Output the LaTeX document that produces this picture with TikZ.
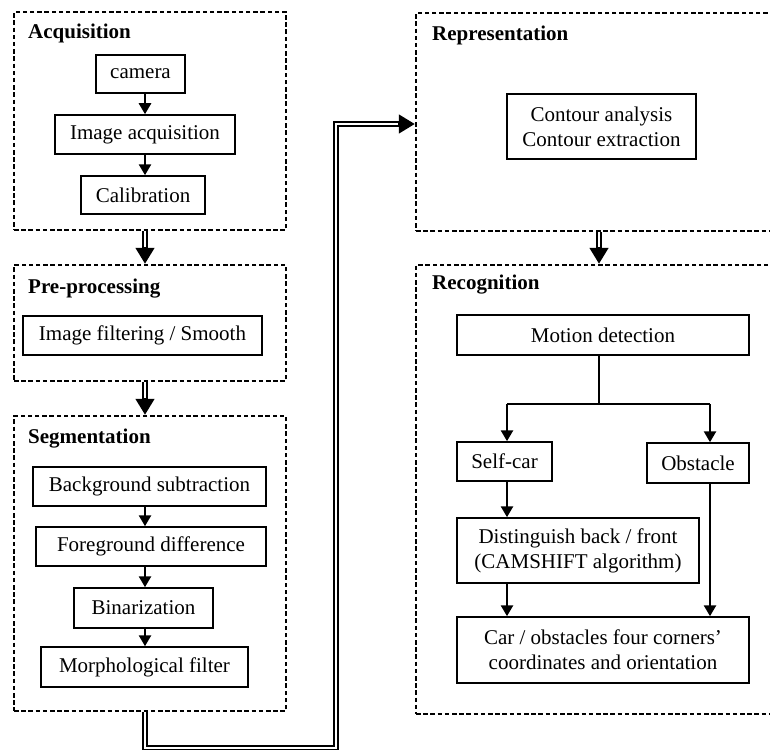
\documentclass[tikz,border=0pt]{standalone}
\usepackage{fontspec}
\setmainfont{Liberation Serif}
\usetikzlibrary{arrows.meta}
\tikzset{
  box/.style={draw, line width=1.5pt, inner sep=0pt, align=center,
    font=\fontsize{21}{25}\selectfont},
  stage/.style={draw, line width=2.2pt, dash pattern=on 4.5pt off 2.7pt,
    inner sep=0pt},
  title/.style={anchor=base west, inner sep=0pt,
    font=\fontsize{21}{25}\selectfont\bfseries},
  arr/.style={line width=2.6pt, -{Triangle[length=11pt,width=12pt]}},
  line/.style={line width=2.8pt},
  dbl/.style={line width=6.5pt, line join=miter,
    -{Triangle[length=16pt,width=18pt]},
    postaction={draw=white, line width=2pt, -, shorten >=17pt}},
}
\begin{document}
\begin{tikzpicture}[x=1pt,y=-1pt]
\useasboundingbox (0,0) rectangle (770,749);
\clip (0,0) rectangle (770,749);

% stage frames
\node[stage, minimum width=272pt, minimum height=218pt] (acq) at (150,121) {};
\node[stage, minimum width=272pt, minimum height=116pt] (pre) at (150,323) {};
\node[stage, minimum width=272pt, minimum height=295pt] (seg) at (150,563.5) {};
\node[stage, minimum width=380pt, minimum height=218pt] (rep) at (606,122) {};
\node[stage, minimum width=380pt, minimum height=449pt] (rec) at (606,489.5) {};

% stage titles
\node[title] (tacq) at (28,39) {Acquisition};
\node[title] (tpre) at (28,293) {Pre-processing};
\node[title] (tseg) at (28,443) {Segmentation};
\node[title] (trep) at (432,41) {Representation};
\node[title] (trec) at (432,289) {Recognition};

% acquisition
\node[box, minimum width=89pt, minimum height=38pt] (cam) at (140.5,74) {camera};
\node[box, minimum width=180pt, minimum height=39pt] (imacq) at (145,134.5) {Image acquisition};
\node[box, minimum width=124pt, minimum height=38pt] (cal) at (143,195) {Calibration};

% pre-processing
\node[box, minimum width=239pt, minimum height=39pt] (filt) at (142.5,335.5) {Image filtering / Smooth};

% segmentation
\node[box, minimum width=233pt, minimum height=39pt] (bgs) at (149.5,486.5) {Background subtraction};
\node[box, minimum width=230pt, minimum height=39pt] (fgd) at (151,546.5) {Foreground difference};
\node[box, minimum width=139pt, minimum height=40pt] (bin) at (143.5,608) {Binarization};
\node[box, minimum width=207pt, minimum height=40pt] (morph) at (144.5,667) {Morphological filter};

% representation
\node[box, minimum width=189pt, minimum height=65pt] (cont) at (601.5,126.5) {Contour analysis\\Contour extraction};

% recognition
\node[box, minimum width=292pt, minimum height=40pt] (mot) at (603,335) {Motion detection};
\node[box, minimum width=95pt, minimum height=39pt] (self) at (504.5,461.5) {Self-car};
\node[box, minimum width=102pt, minimum height=40pt] (obs) at (698,463) {Obstacle};
\node[box, minimum width=242pt, minimum height=65pt] (dist) at (578,550.5) {Distinguish back / front\\(CAMSHIFT algorithm)};
\node[box, minimum width=292pt, minimum height=66pt] (corn) at (603,650) {Car / obstacles four corners'\\coordinates and orientation};

% guide coordinates for the connectors
\coordinate (lx) at (145,0);
\coordinate (split) at (599,404);
\coordinate (sx) at (507,0);
\coordinate (ox) at (710,0);
\coordinate (bl) at (145,748);
\coordinate (br) at (336,748);
\coordinate (tr) at (336,124);

% arrows inside the stages
\draw[arr] (cam.south -| lx) -- (imacq.north -| lx);
\draw[arr] (imacq.south -| lx) -- (cal.north -| lx);
\draw[arr] (bgs.south -| lx) -- (fgd.north -| lx);
\draw[arr] (fgd.south -| lx) -- (bin.north -| lx);
\draw[arr] (bin.south -| lx) -- (morph.north -| lx);

\draw[line] (mot.south -| split) -- (split);
\draw[line] (split -| sx) -- (split -| ox);
\draw[arr] (split -| sx) -- (self.north -| sx);
\draw[arr] (split -| ox) -- (obs.north -| ox);
\draw[arr] (self.south -| sx) -- (dist.north -| sx);
\draw[arr] (dist.south -| sx) -- (corn.north -| sx);
\draw[arr] (obs.south -| ox) -- (corn.north -| ox);

% double arrows between the stages
\draw[dbl] (acq.south -| lx) -- (pre.north -| lx);
\draw[dbl] (pre.south -| lx) -- (seg.north -| lx);
\draw[dbl] (rep.south -| split) -- (rec.north -| split);
\draw[dbl] (seg.south -| bl) -- (bl) -- (br) -- (tr) -- (tr -| rep.west);
\end{tikzpicture}
\end{document}
